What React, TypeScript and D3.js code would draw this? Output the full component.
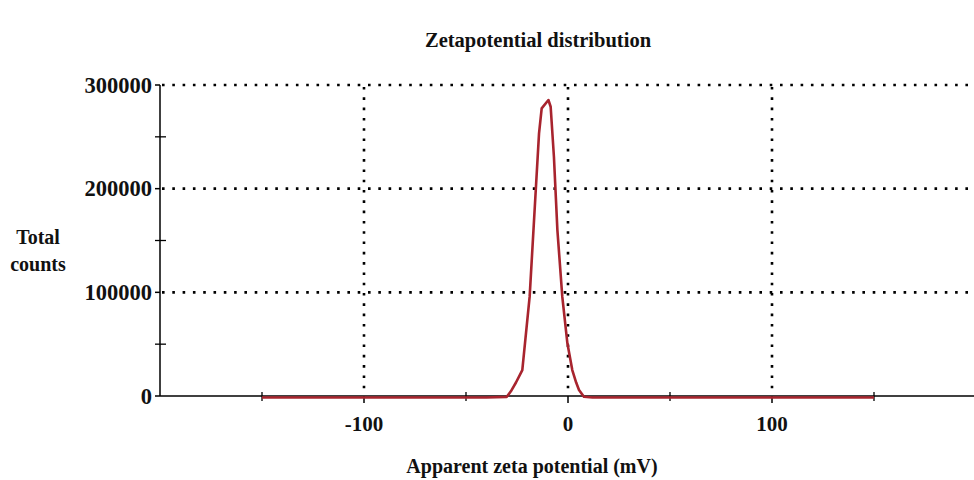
import React from "react";
import * as d3 from "d3";

// Zeta potential (mV) and total counts along the measured distribution
const potentials = [-150, -100, -60, -40, -30, -28, -25.5, -22.4, -18.8, -15.8, -14.2, -12.9, -9.6, -8.5, -6.9, -5.2, -2.8, -0.3, 2.1, 4, 5.4, 7.8, 12, 50, 100, 150];
const counts = [-1500, -1500, -1500, -1500, -800, 4500, 13000, 25000, 95800, 198700, 253400, 277500, 285500, 279000, 230800, 160100, 95800, 50800, 25000, 13000, 5800, -800, -1500, -1500, -1500, -1500];

const yTicks = [0, 100000, 200000, 300000];
const yMinorTicks = [50000, 150000, 250000];
const xLabelTicks = [-100, 0, 100];
const xMinorTicks = [-150, -50, 50, 150];

const W = 974;
const H = 480;

export default function App() {
  const x = d3.scaleLinear().domain([-200, 200]).range([160, 976]);
  const y = d3.scaleLinear().domain([0, 300000]).range([396, 85]);

  const pts: [number, number][] = potentials.map((p, i) => [p, counts[i]]);
  const line = d3
    .line<[number, number]>()
    .x((d) => x(d[0]))
    .y((d) => y(d[1]))
    .curve(d3.curveLinear);

  const serif = "'Liberation Serif', 'Times New Roman', serif";
  const dots = { stroke: "#000", strokeWidth: 2.6, strokeDasharray: "2.6 7.7" };

  return (
    <div style={{ position: "absolute", left: 0, top: 0 }}>
      <svg width={W} height={H} style={{ display: "block", background: "#fff" }}>
        <text x={538} y={47} textAnchor="middle" fontFamily={serif} fontWeight="bold" fontSize={20.5} fill="#111">
          Zetapotential distribution
        </text>

        {/* dotted grid */}
        {yTicks.slice(1).map((t) => (
          <line key={"gy" + t} x1={x(-200) + 2} x2={W} y1={y(t)} y2={y(t)} {...dots} />
        ))}
        {xLabelTicks.map((t) => (
          <line key={"gx" + t} x1={x(t)} x2={x(t)} y1={y(300000) + 2} y2={y(0)} {...dots} />
        ))}

        {/* y axis */}
        <line x1={160} x2={160} y1={y(300000)} y2={y(0)} stroke="#000" strokeWidth={1.5} />
        {yTicks.map((t) => (
          <g key={"yt" + t}>
            <line x1={155} x2={160} y1={y(t)} y2={y(t)} stroke="#000" strokeWidth={1.5} />
            <text x={152} y={y(t) + 7.5} textAnchor="end" fontFamily={serif} fontWeight="bold" fontSize={22.5} fill="#111">
              {t}
            </text>
          </g>
        ))}
        {yMinorTicks.map((t) => (
          <line key={"ym" + t} x1={155} x2={166} y1={y(t)} y2={y(t)} stroke="#000" strokeWidth={1.3} />
        ))}

        {/* x axis */}
        <line x1={160} x2={W} y1={y(0)} y2={y(0)} stroke="#000" strokeWidth={1.5} />
        {xMinorTicks.map((t) => (
          <line key={"xm" + t} x1={x(t)} x2={x(t)} y1={y(0) - 4} y2={y(0) + 5} stroke="#000" strokeWidth={1.3} />
        ))}
        {xLabelTicks.map((t) => (
          <g key={"xt" + t}>
            <line x1={x(t)} x2={x(t)} y1={y(0)} y2={y(0) + 7} stroke="#000" strokeWidth={1.5} />
            <text x={x(t)} y={431} textAnchor="middle" fontFamily={serif} fontWeight="bold" fontSize={21} fill="#111">
              {t}
            </text>
          </g>
        ))}

        {/* distribution curve */}
        <path d={line(pts) ?? ""} fill="none" stroke="#a8242e" strokeWidth={2.6} strokeLinejoin="round" />

        <text x={38} y={244} textAnchor="middle" fontFamily={serif} fontWeight="bold" fontSize={20} fill="#111">Total</text>
        <text x={38} y={271} textAnchor="middle" fontFamily={serif} fontWeight="bold" fontSize={20} fill="#111">counts</text>

        <text x={532} y={473} textAnchor="middle" fontFamily={serif} fontWeight="bold" fontSize={20} fill="#111">
          Apparent zeta potential (mV)
        </text>
      </svg>
    </div>
  );
}
